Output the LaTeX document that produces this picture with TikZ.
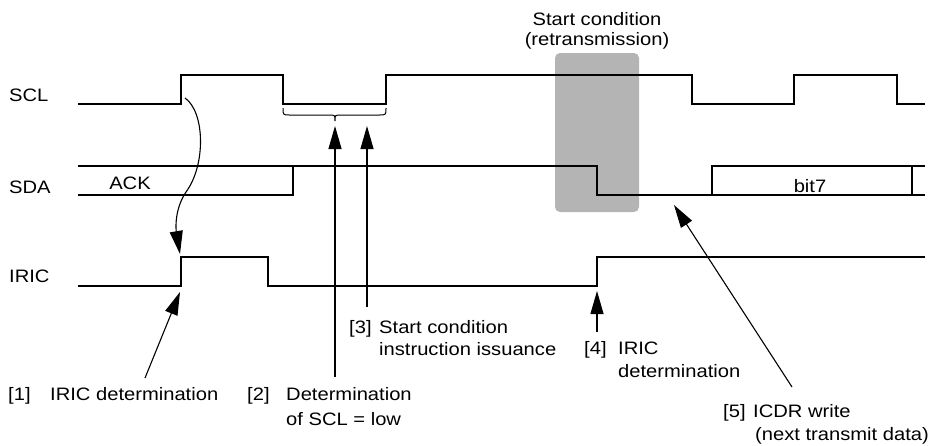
\documentclass[tikz,border=0pt]{standalone}
\usepackage{fontspec}
\setmainfont{Liberation Sans}[FakeStretch=1.12]
\usetikzlibrary{arrows.meta}
\definecolor{boxgray}{HTML}{B4B4B4}
\begin{document}
\begin{tikzpicture}[x=1pt,y=-1pt,
  sig/.style={line width=1.1pt,line join=miter},
  lbl/.style={inner sep=0pt,anchor=base west,font=\fontsize{18}{21}\selectfont},
  clbl/.style={inner sep=0pt,anchor=base,font=\fontsize{18}{21}\selectfont},
  arr/.style={line width=1.1pt,-{Triangle[length=23pt,width=13pt]}}]
\useasboundingbox (0,0) rectangle (939,445);
% shaded start condition
\fill[boxgray,rounded corners=5pt] (555,53) rectangle (639,212);
% signal names
\node[lbl] (nscl) at (9,101) {SCL};
\node[lbl] (nsda) at (9,193) {SDA};
\node[lbl] (niric) at (9,282) {IRIC};
% SCL
\draw[sig] (78,104) -- (181,104) -- (181,75) -- (283,75) -- (283,104) -- (386,104) -- (386,75)
  -- (692,75) -- (692,104) -- (794,104) -- (794,75) -- (897,75) -- (897,104) -- (925,104);
% SDA
\draw[sig] (78,166) -- (597,166) -- (597,195) -- (925,195);
\draw[sig] (78,195) -- (293,195) -- (293,166);
\draw[sig] (712,195) -- (712,166) -- (925,166);
\draw[sig] (912,166) -- (912,195);
\node[clbl] (ack) at (130,189) {ACK};
\node[clbl] (bit7) at (810,192) {bit7};
% IRIC
\draw[sig] (78,286) -- (181,286) -- (181,257) -- (268,257) -- (268,286) -- (597,286) -- (597,257) -- (925,257);
% brace
\draw[line width=1pt] (283,108) .. controls (283,115) .. (290,115) -- (329,115)
  .. controls (335,115) .. (335,121) .. controls (335,115) .. (341,115) -- (379,115)
  .. controls (386,115) .. (386,108);
% titles
\node[clbl] (st1) at (597,25) {Start condition};
\node[clbl] (st2) at (597,45) {(retransmission)};
% annotation labels
\node[lbl] (l1n) at (8,400) {[1]};
\node[lbl] (l1t) at (50,400) {IRIC determination};
\node[lbl] (l2n) at (247,400) {[2]};
\node[lbl] (l2t) at (286,400) {Determination};
\node[lbl] (l2u) at (286,425) {of SCL = low};
\node[lbl] (l3n) at (349,333) {[3]};
\node[lbl] (l3t) at (379,333) {Start condition};
\node[lbl] (l3u) at (379,355) {instruction issuance};
\node[lbl] (l4n) at (584,354) {[4]};
\node[lbl] (l4t) at (618,354) {IRIC};
\node[lbl] (l4u) at (618,377) {determination};
\node[lbl] (l5n) at (723,417) {[5]};
\node[lbl] (l5t) at (753,417) {ICDR write};
\node[lbl] (l5u) at (755,440) {(next transmit data)};
% arrow end points
\coordinate (c0s) at (185,98);
\coordinate (c0e) at (180,254);
\coordinate (a1s) at (145,378);
\coordinate (a1e) at (180,292);
\coordinate (a2s) at (335,377);
\coordinate (a2e) at (335,126);
\coordinate (a3s) at (367,307);
\coordinate (a3e) at (367,126);
\coordinate (a4s) at (597,332);
\coordinate (a4e) at (597,291);
\coordinate (a5s) at (792,387);
\coordinate (a5e) at (674,205);
% arrows
\draw[arr] (c0s) .. controls (205,112) and (206,165) .. (186,192) .. controls (174,210) and (176,230) .. (c0e);
\draw[arr] (a1s) -- (a1e);
\draw[arr] (a2s) -- (a2e);
\draw[arr] (a3s) -- (a3e);
\draw[arr] (a4s) -- (a4e);
\draw[arr] (a5s) -- (a5e);
\end{tikzpicture}
\end{document}
